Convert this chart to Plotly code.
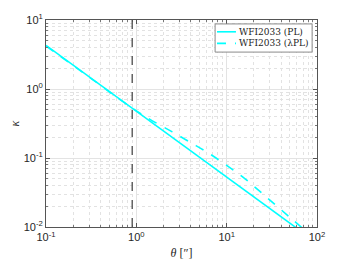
import plotly.graph_objects as go

# Data
theta_pl = [0.1, 0.2, 0.5, 1, 2, 5, 10, 20, 50, 70]
kappa_pl = [4.30, 2.22, 0.926, 0.477, 0.246, 0.1027, 0.0529, 0.0273, 0.0114, 0.00826]

theta_lpl = [0.1, 0.3, 0.9, 1.4, 2.5, 4, 6.3, 10, 16, 25, 40, 70]
kappa_lpl = [4.20, 1.49, 0.528, 0.366, 0.239, 0.167, 0.1176, 0.0782, 0.0498, 0.0303, 0.0178, 0.00947]

vline_theta = 0.9
series_names = ["WFI2033 (PL)", "WFI2033 (\u03bbPL)"]
series_dash = ["solid", "dash"]

x_tickvals = [0.1, 1, 10, 100]
x_ticktext = ["10<sup>-1</sup>", "10<sup>0</sup>", "10<sup>1</sup>", "10<sup>2</sup>"]
y_tickvals = [0.01, 0.1, 1, 10]
y_ticktext = ["10<sup>-2</sup>", "10<sup>-1</sup>", "10<sup>0</sup>", "10<sup>1</sup>"]

# minor grid positions (2..9 within each decade)
x_minor = [m * d for d in [0.1, 1, 10] for m in range(2, 10)]
y_minor = [m * d for d in [0.01, 0.1, 1] for m in range(2, 10)]

CYAN = "#00FFFF"

fig = go.Figure()
fig.add_trace(go.Scatter(x=theta_pl, y=kappa_pl, mode="lines", name=series_names[0],
                         line=dict(color=CYAN, width=1.6, dash=series_dash[0]), showlegend=False))
fig.add_trace(go.Scatter(x=theta_lpl, y=kappa_lpl, mode="lines", name=series_names[1],
                         line=dict(color=CYAN, width=1.6, dash=series_dash[1]),
                         line_shape="spline", showlegend=False))

fig.add_shape(type="line", xref="x", yref="paper", x0=vline_theta, x1=vline_theta, y0=0, y1=1,
              line=dict(color="#4d4d4d", width=1.3, dash="dash"))

# compact MATLAB-style legend box
leg_x0, leg_x1, leg_y0, leg_y1 = 0.624, 0.982, 0.845, 0.981
fig.add_shape(type="rect", xref="paper", yref="paper", x0=leg_x0, x1=leg_x1, y0=leg_y0, y1=leg_y1,
              line=dict(color="#8a8a8a", width=1), fillcolor="white", layer="above")
row_y = [0.943, 0.887]
for name, dash, ry in zip(series_names, series_dash, row_y):
    fig.add_shape(type="line", xref="paper", yref="paper", x0=0.631, x1=0.701, y0=ry, y1=ry,
                  line=dict(color=CYAN, width=1.6, dash=dash), layer="above")
    fig.add_annotation(xref="paper", yref="paper", x=0.706, y=ry, text=name, showarrow=False,
                       xanchor="left", yanchor="middle",
                       font=dict(family="DejaVu Serif, Liberation Serif", size=9, color="#222222"))

axis_common = dict(
    type="log", automargin=False,
    showline=True, linecolor="#555555", linewidth=1, mirror="allticks",
    ticks="inside", ticklen=4, tickcolor="#555555",
    showgrid=True, gridcolor="#e3e3e3", gridwidth=1,
    tickfont=dict(family="Liberation Sans, Arial", size=11, color="#262626"),
    zeroline=False,
)

minor_common = dict(ticks="inside", ticklen=2, tickcolor="#777777", showgrid=True,
                    gridcolor="#e2e2e2", griddash="dot", gridwidth=1, tickmode="array")

fig.update_layout(
    width=350, height=263,
    margin=dict(l=38, r=41, t=12, b=44),
    paper_bgcolor="white", plot_bgcolor="white",
    showlegend=False,
    xaxis=dict(axis_common, range=[-1, 2], tickmode="array",
               tickvals=x_tickvals, ticktext=x_ticktext,
               minor=dict(minor_common, tickvals=x_minor),
               title=dict(text="<i>\u03b8</i> [\u2033]", standoff=6,
                          font=dict(family="Liberation Serif, DejaVu Serif", size=12, color="#262626"))),
    yaxis=dict(axis_common, range=[-2, 1], tickmode="array",
               tickvals=y_tickvals, ticktext=y_ticktext,
               minor=dict(minor_common, tickvals=y_minor),
               title=dict(text="<i>\u03ba</i>", standoff=14,
                          font=dict(family="Liberation Serif, DejaVu Serif", size=12, color="#262626"))),
)

fig.write_html("out.html")
